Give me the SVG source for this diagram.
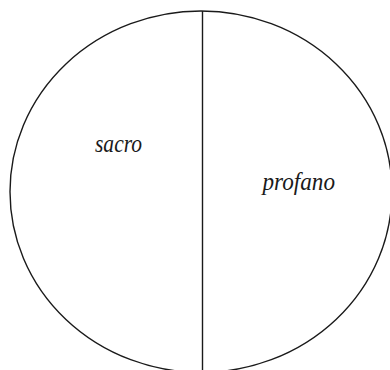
<svg xmlns="http://www.w3.org/2000/svg" width="390" height="370" viewBox="0 0 390 370">
<style>
.shape{fill:none;stroke:#1a1a1a;stroke-width:1.4}
.lbl{font-family:"Liberation Serif","DejaVu Serif",serif;font-style:italic;font-size:26px;fill:#1a1a1a}
</style>
<rect width="390" height="370" fill="#fff"/>
<g id="circle">
<ellipse class="shape" cx="201" cy="191.7" rx="191" ry="180.7"/>
</g>
<g id="divider">
<line class="shape" x1="202.5" y1="11" x2="202.5" y2="370"/>
</g>
<g id="sacro">
<text class="lbl" x="95" y="151.5" textLength="47" lengthAdjust="spacingAndGlyphs">sacro</text>
</g>
<g id="profano">
<text class="lbl" x="262.5" y="189.5" textLength="72.5" lengthAdjust="spacingAndGlyphs">profano</text>
</g>
</svg>
